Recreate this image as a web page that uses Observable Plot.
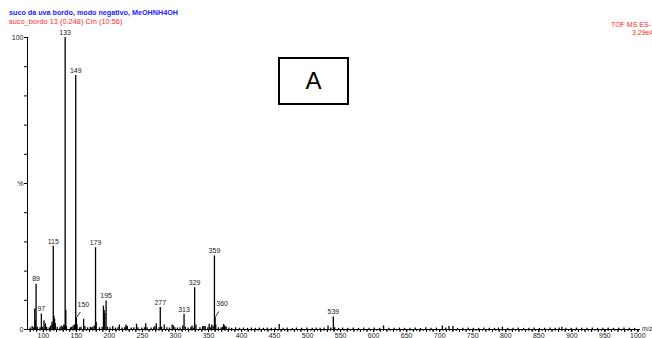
<!DOCTYPE html>
<html>
<head>
<meta charset="utf-8">
<script src="https://cdn.jsdelivr.net/npm/d3@7"></script>
<script src="https://cdn.jsdelivr.net/npm/@observablehq/plot@0.6"></script>
<style>
  html, body { margin: 0; padding: 0; background: #fff; }
  body { width: 652px; height: 338px; position: relative; overflow: hidden; font-family: "Liberation Sans", Arial, sans-serif; }
  #head { height: 22px; position: relative; }
  #t1 { position: absolute; left: 9px; top: 8px; font-size: 7.2px; font-weight: bold; color: #1a1aff; white-space: nowrap; }
  #t2 { position: absolute; left: 9px; top: 17px; font-size: 7.4px; color: #ff2a2a; white-space: nowrap; }
  #r1 { position: absolute; left: 611px; top: 21px; font-size: 7px; color: #ff2a2a; white-space: nowrap; }
  #r2 { position: absolute; left: 632px; top: 29px; font-size: 7px; color: #ff2a2a; white-space: nowrap; }
  #box { position: absolute; left: 278px; top: 57px; width: 67px; height: 44px; border: 2px solid #000; font-size: 24px; text-align: center; line-height: 44px; }
  #mz { position: absolute; left: 642px; top: 325px; font-size: 6.5px; font-style: italic; color: #222; }
  #chart { position: absolute; left: 0; top: 22px; }
</style>
</head>
<body>
<div id="head"></div>
<div id="chart"></div>
<div id="t1"></div>
<div id="t2"></div>
<div id="r1"></div>
<div id="r2"></div>
<div id="box"></div>
<div id="mz"></div>
<script>
const title = "suco da uva bordo, modo negativo, MeOHNH4OH";
const subtitle = "suco_bordo 13 (0.248) Cm (10:56)";
const instrument = "TOF MS ES-";
const scaleText = "3.29e4";
const panelLetter = "A";
const xUnit = "m/z";

// Labelled peaks (m/z, relative intensity %)
const labelMz  = [89, 97, 115, 133, 149, 150, 179, 195, 277, 313, 329, 359, 360, 539];
const labelInt = [15.5, 5.3, 28.5, 100, 87, 4, 28, 9.8, 7.5, 5.2, 14.3, 25.2, 4.2, 4.3];
// peaks whose labels sit aside with a leader line
const leaderMz = [150, 360];

// Unlabelled peaks
const minorMz  = [80, 83, 85, 87, 88, 91, 95, 99, 101, 103, 105, 109, 111, 113, 114, 116, 117, 118, 121, 125, 127, 129, 131, 132, 134, 135, 141, 143, 145, 147, 148, 151, 155, 157, 161, 163, 167, 171, 173, 175, 177, 180, 185, 189, 191, 192, 193, 197, 201, 205, 209, 213, 215, 219, 223, 225, 226, 227, 233, 237, 241, 243, 249, 253, 255, 257, 263, 267, 269, 271, 275, 279, 283, 287, 291, 295, 297, 299, 303, 307, 311, 315, 319, 323, 325, 327, 331, 337, 341, 343, 345, 349, 351, 353, 355, 357, 361, 365, 369, 371, 373, 374, 375, 377, 381, 385, 391, 397, 403, 409, 415, 421, 427, 433, 439, 445, 451, 457, 463, 469, 477, 483, 491, 499, 507, 513, 519, 525, 531, 535, 541, 547, 553, 561, 569, 577, 585, 593, 601, 609, 615, 623, 631, 639, 647, 655, 663, 671, 679, 687, 695, 704, 709, 714, 720, 727, 735, 743, 751, 759, 767, 775, 783, 789, 795, 803, 811, 819, 827, 835, 843, 851, 859, 867, 875, 881, 885, 891, 899, 907, 915, 923, 931, 939, 947, 955, 963, 971, 979, 987, 995];
const minorInt = [0.5, 1.0, 0.6, 7.0, 3.0, 0.8, 0.6, 0.8, 3.0, 2.0, 0.8, 0.6, 1.2, 2.5, 1.5, 4.5, 3.5, 2.0, 0.8, 0.6, 1.2, 0.8, 1.5, 1.2, 6.5, 1.0, 0.6, 0.8, 1.2, 1.5, 1.5, 1.5, 0.6, 0.8, 3.5, 1.0, 0.6, 0.8, 0.6, 0.8, 1.2, 2.5, 0.6, 0.8, 8.0, 6.5, 5.5, 0.8, 0.6, 1.0, 0.5, 0.6, 1.5, 0.5, 0.6, 1.5, 1.0, 1.0, 0.5, 0.6, 1.8, 0.6, 0.5, 0.6, 2.0, 0.6, 0.5, 0.6, 1.0, 2.0, 0.6, 0.8, 1.5, 0.6, 0.5, 1.5, 1.2, 0.6, 0.5, 0.6, 1.2, 0.8, 0.5, 0.6, 1.2, 0.5, 1.5, 0.6, 1.0, 1.0, 1.0, 0.6, 1.8, 0.6, 1.5, 1.0, 1.5, 0.6, 0.5, 0.8, 1.7, 1.2, 1.0, 0.8, 0.5, 0.4, 0.6, 0.4, 0.5, 0.4, 0.5, 0.4, 0.5, 0.4, 0.5, 0.4, 0.5, 1.7, 0.4, 0.5, 0.4, 0.5, 0.4, 0.5, 0.4, 0.5, 0.4, 0.5, 1.2, 0.5, 0.6, 0.4, 0.5, 0.4, 0.5, 0.4, 0.5, 0.4, 0.5, 0.4, 1.2, 0.4, 0.4, 0.5, 0.4, 0.4, 0.5, 0.4, 0.6, 0.4, 0.5, 1.2, 0.5, 1.0, 1.0, 0.4, 0.4, 0.5, 0.4, 0.4, 0.5, 0.4, 0.4, 0.5, 0.8, 0.4, 0.4, 0.5, 0.4, 0.4, 0.5, 0.4, 0.4, 0.5, 0.4, 0.5, 0.8, 0.4, 0.4, 0.5, 0.4, 0.4, 0.5, 0.4, 0.4, 0.5, 0.4, 0.4, 0.5, 0.4, 0.4];

const yTicks = [0, 10, 20, 30, 40, 50, 60, 70, 80, 90, 100];
const yTickText = {0: "0", 50: "%", 100: "100"};
const xLabelTicks = d3.range(100, 1001, 50);
const xMinorTicks = d3.range(80, 1001, 5);
const xMidTicks = d3.range(80, 1001, 10);

document.getElementById("t1").textContent = title;
document.getElementById("t2").textContent = subtitle;
document.getElementById("r1").textContent = instrument;
document.getElementById("r2").textContent = scaleText;
document.getElementById("box").textContent = panelLetter;
document.getElementById("mz").textContent = xUnit;

const labelled = labelMz.map((mz, i) => ({mz, int: labelInt[i], leader: leaderMz.includes(mz)}));
const minor = minorMz.map((mz, i) => ({mz, int: minorInt[i]}));
const all = minor.concat(labelled);

const chart = Plot.plot({
  width: 652,
  height: 316,
  marginLeft: 27,
  marginRight: 12,
  marginTop: 15,
  marginBottom: 9,
  x: {domain: [76, 1004]},
  y: {domain: [0, 100]},
  style: {fontFamily: "'Liberation Sans', Arial, sans-serif", fontSize: "7px", color: "#222", background: "transparent"},
  marks: [
    Plot.axisY({ticks: yTicks, tickSize: 3, tickPadding: 1, tickFormat: d => yTickText[d] ?? "", label: null, stroke: "#000"}),
    Plot.axisX({ticks: xMinorTicks, tickSize: 2, tickFormat: () => "", label: null, stroke: "#000"}),
    Plot.axisX({ticks: xMidTicks, tickSize: 3, tickFormat: () => "", label: null, stroke: "#000"}),
    Plot.axisX({ticks: xLabelTicks, tickSize: 3, tickPadding: 1, tickFormat: d => String(d), label: null, stroke: "#000"}),
    Plot.ruleX(all, {x: "mz", y1: 0, y2: "int", stroke: "#000", strokeWidth: 1.3}),
    Plot.ruleY([0], {stroke: "#000", strokeWidth: 1}),
    Plot.ruleX([76], {y1: 0, y2: 100, stroke: "#000", strokeWidth: 1}),
    Plot.text(labelled.filter(d => !d.leader), {x: "mz", y: "int", text: d => String(d.mz), dy: -5, fontSize: 7, fill: "#222"}),
    Plot.text(labelled.filter(d => d.leader), {x: "mz", y: "int", text: d => String(d.mz), dx: 7, dy: -13, fontSize: 7, fill: "#222"}),
    Plot.link(labelled.filter(d => d.leader), {x1: d => d.mz + 1, y1: d => d.int + 0.3, x2: d => d.mz + 6, y2: d => d.int + 2.0, stroke: "#000", strokeWidth: 0.8})
  ]
});
document.getElementById("chart").appendChild(chart);
</script>
</body>
</html>
